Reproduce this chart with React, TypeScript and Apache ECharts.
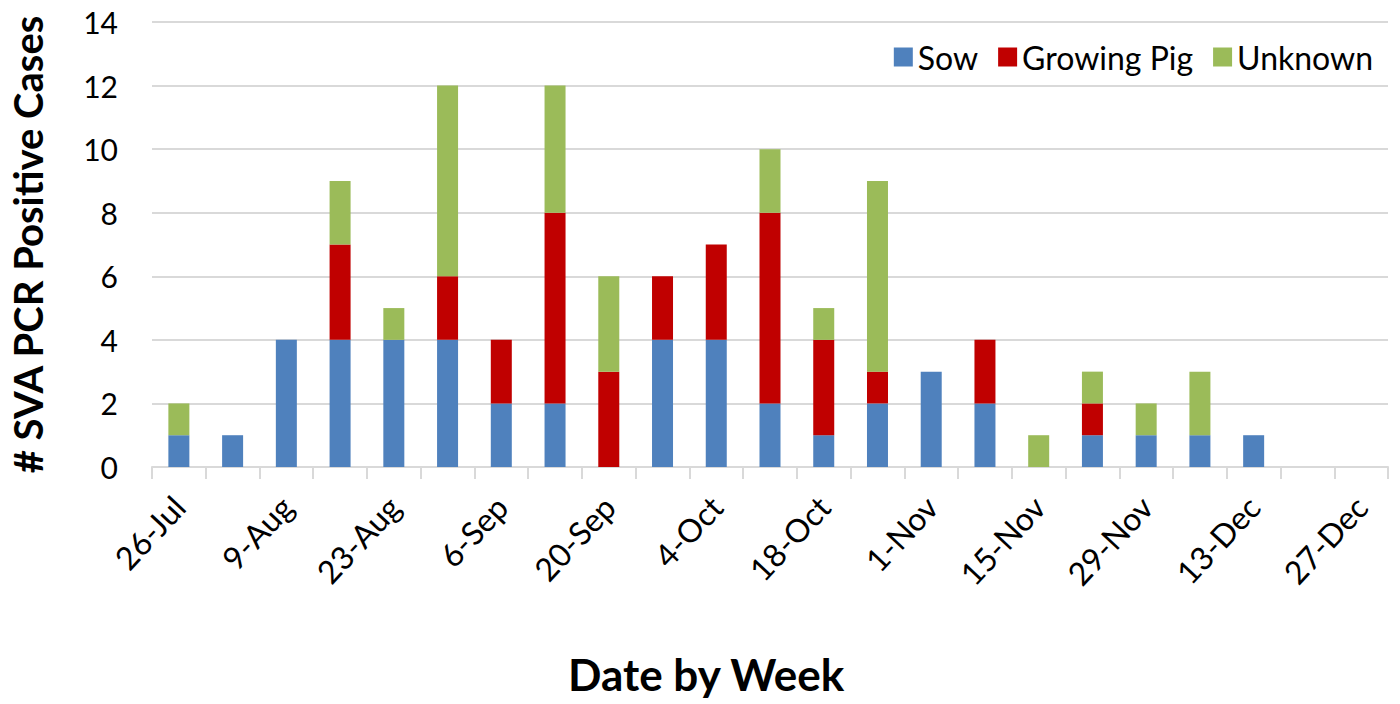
import React, { useEffect, useRef } from "react";
import * as echarts from "echarts";

const categories = [
  "26-Jul", "2-Aug", "9-Aug", "16-Aug", "23-Aug", "30-Aug", "6-Sep", "13-Sep",
  "20-Sep", "27-Sep", "4-Oct", "11-Oct", "18-Oct", "25-Oct", "1-Nov", "8-Nov",
  "15-Nov", "22-Nov", "29-Nov", "6-Dec", "13-Dec", "20-Dec", "27-Dec",
];
const sow = [1, 1, 4, 4, 4, 4, 2, 2, 0, 4, 4, 2, 1, 2, 3, 2, 0, 1, 1, 1, 1, 0, 0];
const growingPig = [0, 0, 0, 3, 0, 2, 2, 6, 3, 2, 3, 6, 3, 1, 0, 2, 0, 1, 0, 0, 0, 0, 0];
const unknown = [1, 0, 0, 2, 1, 6, 0, 4, 3, 0, 0, 2, 1, 6, 0, 0, 1, 1, 1, 2, 0, 0, 0];
const yTicks = { min: 0, max: 14, interval: 2 };

const FONT = "Lato, 'Open Sans', sans-serif";

export default function App() {
  const ref = useRef<HTMLDivElement>(null);
  useEffect(() => {
    if (!ref.current) return;
    const chart = echarts.init(ref.current, null, { renderer: "svg" });
    const mk = (name: string, data: number[], color: string) => ({
      name,
      type: "bar",
      stack: "total",
      data,
      barWidth: 21,
      itemStyle: { color },
    });
    chart.setOption({
      animation: false,
      textStyle: { fontFamily: FONT },
      grid: { left: 150, right: 12, top: 22, bottom: 237, containLabel: false },
      legend: {
        top: 36,
        right: 22,
        itemWidth: 19,
        itemHeight: 19,
        itemGap: 20,
        icon: "rect",
        textStyle: { fontSize: 32, color: "#000", fontFamily: FONT },
        data: ["Sow", "Growing Pig", "Unknown"],
      },
      xAxis: {
        type: "category",
        data: categories,
        boundaryGap: true,
        axisLine: { lineStyle: { color: "#D9D9D9", width: 2 } },
        axisTick: { show: true, interval: 0, length: 12, lineStyle: { color: "#D9D9D9", width: 2 } },
        axisLabel: {
          interval: 1,
          rotate: 47,
          fontSize: 32,
          color: "#000",
          margin: 34,
          fontFamily: FONT,
        },
      },
      yAxis: {
        type: "value",
        min: yTicks.min,
        max: yTicks.max,
        interval: yTicks.interval,
        name: "# SVA PCR Positive Cases",
        nameLocation: "middle",
        nameGap: 104,
        nameTextStyle: { fontSize: 40, fontWeight: "bold", color: "#000", fontFamily: FONT },
        axisLine: { show: false },
        axisTick: { show: false },
        axisLabel: { fontSize: 30, color: "#000", margin: 34, fontFamily: FONT },
        splitLine: { lineStyle: { color: "#D9D9D9", width: 2 } },
      },
      graphic: [
        {
          type: "text",
          left: 568,
          top: 652,
          style: {
            text: "Date by Week",
            font: `bold 44px ${FONT}`,
            fill: "#000",
          },
        },
      ],
      series: [
        mk("Sow", sow, "#4F81BD"),
        mk("Growing Pig", growingPig, "#C00000"),
        mk("Unknown", unknown, "#9BBB59"),
      ],
    });
    return () => chart.dispose();
  }, []);
  return <div ref={ref} style={{ width: 1400, height: 704, position: "absolute", left: 0, top: 0 }} />;
}
